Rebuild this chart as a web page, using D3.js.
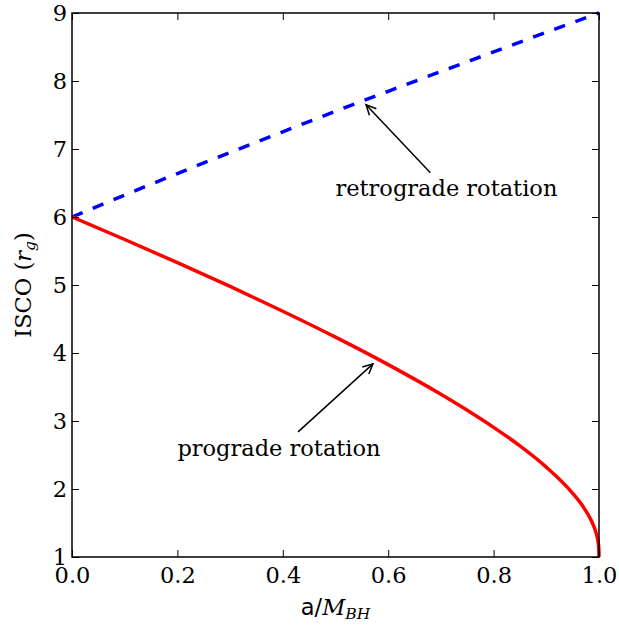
<!DOCTYPE html>
<html><head><meta charset="utf-8">
<script src="https://cdn.jsdelivr.net/npm/d3@7"></script>
<style>body{margin:0;background:#fff}</style>
</head><body><svg id="c" width="619" height="626"></svg>
<script>
const spinPro = [0,0.1,0.2,0.3,0.4,0.5,0.6,0.7,0.75,0.8,0.85,0.9,0.95,0.97,0.98,0.99,0.995,0.998,0.999,0.9999,1.0];
const iscoPro = [6,5.669,5.329,4.979,4.614,4.233,3.829,3.393,3.158,2.907,2.633,2.321,1.937,1.738,1.614,1.455,1.341,1.237,1.182,1.079,1.0];
const spinRetro = [0,0.1,0.2,0.3,0.4,0.5,0.6,0.7,0.8,0.9,1.0];
const iscoRetro = [6,6.323,6.639,6.949,7.253,7.555,7.849,8.140,8.427,8.716,9];
const xTicks = [0,0.2,0.4,0.6,0.8,1.0];
const yTicks = [1,2,3,4,5,6,7,8,9];

const svg = d3.select("#c");
const L=72,R=599,T=13,B=557;
const x = d3.scaleLinear().domain([0,1]).range([L,R]);
const y = d3.scaleLinear().domain([1,9]).range([B,T]);
const font = "DejaVu Serif";
const fs = 22.5;

const line = d3.line().x(d=>x(d[0])).y(d=>y(d[1])).curve(d3.curveMonotoneX);
svg.append("path").datum(spinRetro.map((s,i)=>[s,iscoRetro[i]]))
  .attr("d",line).attr("fill","none").attr("stroke","#0000ff")
  .attr("stroke-width",3.5).attr("stroke-dasharray","11.5,11");
svg.append("path").datum(spinPro.map((s,i)=>[s,iscoPro[i]]))
  .attr("d",line).attr("fill","none").attr("stroke","#ff0000")
  .attr("stroke-width",3.5);

// axes with inward ticks on all sides
const tk=7;
const axB = d3.axisBottom(x).tickValues(xTicks).tickFormat(d3.format(".1f")).tickSizeInner(-tk).tickSizeOuter(0).tickPadding(10);
const axT = d3.axisTop(x).tickValues(xTicks).tickFormat("").tickSizeInner(-tk).tickSizeOuter(0);
const axL = d3.axisLeft(y).tickValues(yTicks).tickFormat(d3.format("d")).tickSizeInner(-tk).tickSizeOuter(0).tickPadding(5);
const axR = d3.axisRight(y).tickValues(yTicks).tickFormat("").tickSizeInner(-tk).tickSizeOuter(0);
function style(g){g.selectAll("path").remove();g.selectAll("line").attr("stroke","#000").attr("stroke-width",1);
  g.selectAll("text").attr("font-family",font).attr("font-size",fs).attr("fill","#000");}
svg.append("g").attr("transform",`translate(0,${B})`).call(axB).call(style);
svg.append("g").attr("transform",`translate(0,${T})`).call(axT).call(style);
svg.append("g").attr("transform",`translate(${L},0)`).call(axL).call(style);
svg.append("g").attr("transform",`translate(${R},0)`).call(axR).call(style);
svg.append("rect").attr("x",L).attr("y",T).attr("width",R-L).attr("height",B-T)
  .attr("fill","none").attr("stroke","#000").attr("stroke-width",1.5);

// annotations
const notes = [
  {text:"retrograde rotation", tx:0.50, ty:6.31, ax:0.68, ay:6.65, px:0.558, py:7.65},
  {text:"prograde rotation", tx:0.20, ty:2.49, ax:0.429, ay:2.84, px:0.571, py:3.84}
];
notes.forEach(n=>{
  svg.append("text").attr("x",x(n.tx)).attr("y",y(n.ty)).attr("font-family",font)
    .attr("font-size",fs).text(n.text);
  const x1=x(n.ax),y1=y(n.ay),x2=x(n.px),y2=y(n.py);
  svg.append("line").attr("x1",x1).attr("y1",y1).attr("x2",x2).attr("y2",y2)
    .attr("stroke","#000").attr("stroke-width",1.5);
  const ang=Math.atan2(y1-y2,x1-x2), h=11, w=0.45;
  const p1=[x2+h*Math.cos(ang+w),y2+h*Math.sin(ang+w)];
  const p2=[x2+h*Math.cos(ang-w),y2+h*Math.sin(ang-w)];
  svg.append("path").attr("d",`M${p1}L${x2},${y2}L${p2}`).attr("fill","none")
    .attr("stroke","#000").attr("stroke-width",1.5);
});

// x label
const xl = svg.append("text").attr("x",(L+R)/2).attr("y",615).attr("text-anchor","middle")
  .attr("font-size",fs).attr("fill","#000");
xl.append("tspan").attr("font-family","DejaVu Sans").text("a/");
xl.append("tspan").attr("font-family",font).attr("font-style","italic").text("M");
xl.append("tspan").attr("font-family",font).attr("font-style","italic").attr("font-size",15.5).attr("dy",4).text("BH");

// y label
const yl = svg.append("text").attr("transform",`translate(31,${(T+B)/2}) rotate(-90)`)
  .attr("text-anchor","middle").attr("font-size",fs).attr("font-family",font).attr("fill","#000");
yl.append("tspan").text("ISCO (");
yl.append("tspan").attr("font-style","italic").text("r");
yl.append("tspan").attr("font-style","italic").attr("font-size",15.5).attr("dy",4).text("g");
yl.append("tspan").attr("dy",-4).text(")");
</script></body></html>
